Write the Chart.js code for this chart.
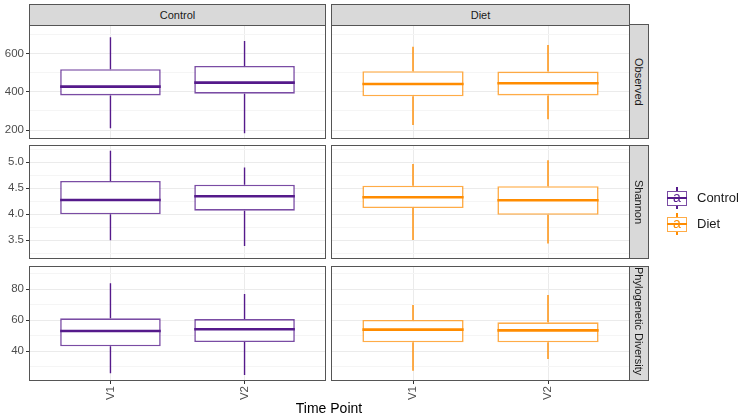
<!DOCTYPE html>
<html>
<head>
<meta charset="utf-8">
<script src="https://cdn.jsdelivr.net/npm/chart.js@4"></script>
<style>
html,body{margin:0;padding:0;background:#fff;}
body{width:742px;height:419px;position:relative;overflow:hidden;font-family:"Liberation Sans",Arial,sans-serif;}
canvas{position:absolute;}
.strip{position:absolute;box-sizing:border-box;background:#D9D9D9;border:1px solid #555;color:#1A1A1A;font-size:11px;display:flex;align-items:center;justify-content:center;overflow:hidden;white-space:nowrap;}
.strip.v{writing-mode:vertical-rl;}
.key{position:absolute;width:20px;height:22px;}
.key div{position:absolute;box-sizing:border-box;}
.keytxt{position:absolute;font-size:13px;color:#1A1A1A;line-height:16px;}
.xtitle{position:absolute;font-size:14px;color:#000;width:120px;text-align:center;}
</style>
</head>
<body>
<script>
// ---------------- data ----------------
const timePoints = ['V1', 'V2'];
const groups = ['Control', 'Diet'];
const metrics = ['Observed', 'Shannon', 'Phylogenetic Diversity'];
// five-number summaries per time point: [lower whisker, Q1, median, Q3, upper whisker]
const observedControl = [[209, 382, 428, 520, 688], [183, 391, 449, 537, 668]];
const observedDiet    = [[226, 377, 442, 509, 638], [256, 382, 446, 507, 647]];
const shannonControl  = [[3.50, 4.00, 4.275, 4.64, 5.22], [3.39, 4.07, 4.346, 4.57, 4.90]];
const shannonDiet     = [[3.505, 4.12, 4.327, 4.55, 4.967], [3.44, 3.99, 4.27, 4.54, 5.04]];
const pdControl       = [[25.8, 43.2, 53.1, 61.3, 83.9], [24.7, 46.0, 54.2, 60.8, 77.0]];
const pdDiet          = [[27.5, 45.8, 54.0, 60.2, 69.9], [35.0, 45.8, 53.5, 58.7, 76.3]];
// axis ticks
const observedTicks = [200, 400, 600];
const observedMinorTicks = [300, 500, 700];
const shannonTicks = [3.5, 4.0, 4.5, 5.0];
const shannonMinorTicks = [3.25, 3.75, 4.25, 4.75, 5.25];
const pdTicks = [40, 60, 80];
const pdMinorTicks = [30, 50, 70, 90];

// ---------------- styling / layout ----------------
const groupColor = {Control: '#551A8B', Diet: '#FF8C00'};
const groupBoxColor = {Control: 'rgba(85,26,139,0.78)', Diet: 'rgba(255,140,0,0.72)'};
const rows = [
  {data: [observedControl, observedDiet], major: observedTicks, minor: observedMinorTicks, min: 158, max: 752, dec: 0},
  {data: [shannonControl, shannonDiet], major: shannonTicks, minor: shannonMinorTicks, min: 3.16, max: 5.313, dec: 1},
  {data: [pdControl, pdDiet], major: pdTicks, minor: pdMinorTicks, min: 21.5, max: 94.4, dec: 0}
];
const colLeft = [30, 332], colW = [295, 297];
const rowTop = [25, 146, 267], rowH = [113, 112, 113];
const halfBox = 0.375;

Chart.defaults.font.family = "'Liberation Sans', Arial, sans-serif";
Chart.defaults.animation = false;

const panelBorder = {
  id: 'panelBorder',
  afterDraw(chart) {
    const {ctx, chartArea: a} = chart;
    ctx.save();
    ctx.strokeStyle = '#555';
    ctx.lineWidth = 1;
    ctx.strokeRect(a.left - 0.5, a.top - 0.5, a.width + 1, a.height + 1);
    ctx.restore();
  }
};

function makePanel(r, c) {
  const row = rows[r];
  const g = groups[c];
  const stats = row.data[c];
  const yW = c === 0 ? 30 : 0;
  const xH = r === 2 ? 40 : 0;
  const cv = document.createElement('canvas');
  const W = colW[c] + yW + 2, H = rowH[r] + xH + 2;
  cv.width = W; cv.height = H;
  cv.style.left = (colLeft[c] - yW - 1) + 'px';
  cv.style.top = (rowTop[r] - 1) + 'px';
  document.body.appendChild(cv);

  const boxes = stats.map((s, i) => ({x: i + 1, y: [s[1], s[3]]}));
  const whiskers = [];
  const medians = [];
  stats.forEach((s, i) => {
    const x = i + 1;
    whiskers.push({x, y: s[4]}, {x, y: s[3]}, {x, y: null}, {x, y: s[1]}, {x, y: s[0]}, {x, y: null});
    medians.push({x: x - halfBox, y: s[2]}, {x: x + halfBox, y: s[2]}, {x, y: null});
  });
  const yTicks = row.major.map(v => ({value: v, minor: false}))
    .concat(row.minor.map(v => ({value: v, minor: true})))
    .sort((a, b) => a.value - b.value);

  new Chart(cv, {
    type: 'bar',
    data: {
      datasets: [
        {type: 'line', data: medians, borderColor: groupColor[g], borderWidth: 2.6, pointRadius: 0, spanGaps: false, borderCapStyle: 'butt', fill: false},
        {type: 'bar', data: boxes, backgroundColor: '#FFFFFF', borderColor: groupBoxColor[g], borderWidth: 1.6, borderSkipped: false, barPercentage: 2 * halfBox, categoryPercentage: 1, grouped: false},
        {type: 'line', data: whiskers, borderColor: groupColor[g], borderWidth: 1.4, pointRadius: 0, spanGaps: false, borderCapStyle: 'butt', fill: false}
      ]
    },
    options: {
      responsive: false,
      animation: false,
      layout: {padding: {top: 1, right: 1, bottom: 1, left: 1}},
      plugins: {legend: {display: false}, tooltip: {enabled: false}},
      scales: {
        x: {
          type: 'linear', min: 0.4, max: 2.6, offset: false,
          afterBuildTicks: s => { s.ticks = timePoints.map((t, i) => ({value: i + 1})); },
          afterFit: s => { s.height = xH; s.paddingLeft = 0; s.paddingRight = 0; },
          border: {display: false},
          grid: {offset: false, color: '#EBEBEB', lineWidth: 1, drawTicks: r === 2, tickLength: 4, tickColor: '#333'},
          ticks: {
            display: r === 2, autoSkip: false, minRotation: 90, maxRotation: 90, padding: 2,
            color: '#4D4D4D', font: {size: 11.5},
            callback: v => timePoints[Math.round(v) - 1]
          }
        },
        y: {
          type: 'linear', min: row.min, max: row.max, beginAtZero: false,
          afterBuildTicks: s => { s.ticks = yTicks.map(t => ({value: t.value, minor: t.minor})); },
          afterFit: s => { s.width = yW; s.paddingTop = 0; s.paddingBottom = 0; },
          border: {display: false},
          grid: {
            color: ctx => (ctx.tick && ctx.tick.minor) ? '#F5F5F5' : '#EBEBEB',
            lineWidth: 1,
            drawTicks: c === 0, tickLength: 4,
            tickColor: ctx => (ctx.tick && ctx.tick.minor) ? 'rgba(0,0,0,0)' : '#333'
          },
          ticks: {
            display: c === 0, autoSkip: false, padding: 2, color: '#4D4D4D', font: {size: 11.5},
            callback: function (v, i, ticks) { return ticks[i].minor ? '' : Number(v).toFixed(row.dec); }
          }
        }
      }
    },
    plugins: [panelBorder]
  });
}

for (let r = 0; r < 3; r++) for (let c = 0; c < 2; c++) makePanel(r, c);

// strips
groups.forEach((g, c) => {
  const d = document.createElement('div');
  d.className = 'strip';
  d.textContent = g;
  d.style.left = (colLeft[c] - 1) + 'px';
  d.style.width = (colW[c] + 2) + 'px';
  d.style.top = '4px';
  d.style.height = '22px';
  document.body.appendChild(d);
});
metrics.forEach((m, r) => {
  const d = document.createElement('div');
  d.className = 'strip v';
  d.textContent = m;
  d.style.left = (colLeft[1] + colW[1]) + 'px';
  d.style.width = '20px';
  d.style.top = (rowTop[r] - 1) + 'px';
  d.style.height = (rowH[r] + 2) + 'px';
  d.style.justifyContent = m.length > 15 ? 'flex-start' : 'center';
  document.body.appendChild(d);
});

// legend
groups.forEach((g, i) => {
  const top = 187 + i * 26;
  const k = document.createElement('div');
  k.className = 'key';
  k.style.left = '667px';
  k.style.top = top + 'px';
  k.innerHTML =
    `<div style="left:9.3px;top:0;width:1.4px;height:22px;background:${groupColor[g]}"></div>` +
    `<div style="left:0;top:3.5px;width:20px;height:15px;border:1.6px solid ${groupBoxColor[g]};background:#fff"></div>` +
    `<div style="left:0;top:10px;width:20px;height:2px;background:${groupColor[g]}"></div>` +
    `<div style="left:0;top:0;width:20px;height:22px;text-align:center;font-size:14px;line-height:21px;color:${groupColor[g]}">a</div>`;
  document.body.appendChild(k);
  const t = document.createElement('div');
  t.className = 'keytxt';
  t.textContent = g;
  t.style.left = '697px';
  t.style.top = (top + 3) + 'px';
  document.body.appendChild(t);
});

const xt = document.createElement('div');
xt.className = 'xtitle';
xt.textContent = 'Time Point';
xt.style.left = (329 - 60) + 'px';
xt.style.top = '400px';
document.body.appendChild(xt);
</script>
</body>
</html>
